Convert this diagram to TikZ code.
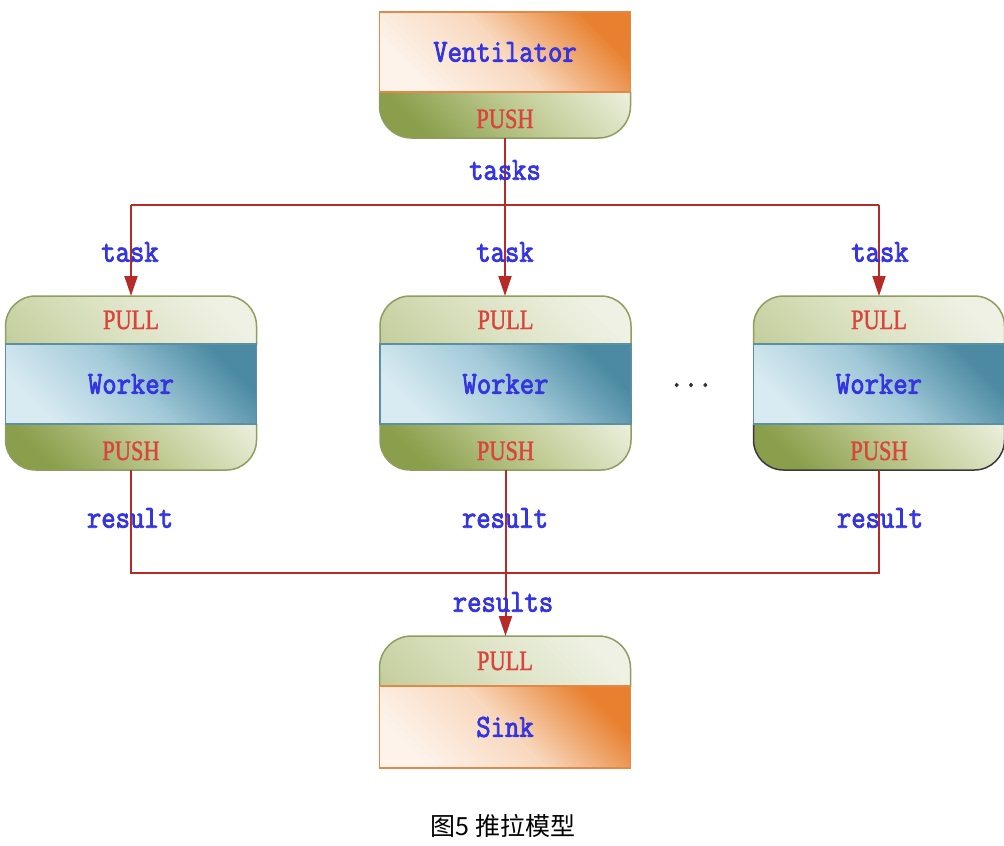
\documentclass[tikz,border=0pt]{standalone}
\usepackage{fontspec}
\usetikzlibrary{arrows.meta,calc}
\newfontfamily\sockfont[FakeStretch=0.8,FakeBold=1.2]{Liberation Serif}
\newfontfamily\cjk{Noto Sans CJK SC}
\newfontfamily\lblfont[FakeStretch=0.87,FakeBold=2.5]{Latin Modern Mono}
\definecolor{orD}{HTML}{E8802F}
\definecolor{orM}{HTML}{F8D8BE}
\definecolor{orL}{HTML}{FDF3EB}
\definecolor{orB}{HTML}{E08A4A}
\definecolor{gpD}{HTML}{8A9E4B}
\definecolor{gpM}{HTML}{BFCB93}
\definecolor{gpL}{HTML}{E9EDD9}
\definecolor{glD}{HTML}{C5CF9E}
\definecolor{glM}{HTML}{DCE2C3}
\definecolor{glL}{HTML}{EEF1E3}
\definecolor{grB}{HTML}{8F9D5E}
\definecolor{blD}{HTML}{4B8AA2}
\definecolor{blM}{HTML}{A3CAD9}
\definecolor{blL}{HTML}{D9EBF2}
\definecolor{blB}{HTML}{5C8FA2}
\definecolor{lnred}{HTML}{B52B27}
\definecolor{lblblue}{HTML}{3535E0}
\definecolor{sockred}{HTML}{D9443B}
\definecolor{dotgray}{HTML}{333333}
\definecolor{darkedge}{HTML}{3A3A3A}
\pgfdeclarelayer{bg}
\pgfsetlayers{bg,main}
\tikzset{
  lbl/.style={font=\lblfont\fontsize{32}{32}\selectfont, text=lblblue, inner sep=0pt},
  sock/.style={font=\sockfont\fontsize{28}{28}\selectfont, text=sockred},
  sect/.style={minimum width=251pt, inner sep=0pt, outer sep=0pt},
  orsh/.style={top color=orD, bottom color=orL, middle color=orM, shading angle=-45},
  pushsh/.style={top color=gpL, bottom color=gpD, middle color=gpM, shading angle=-45},
  pullsh/.style={top color=glL, bottom color=glD, middle color=glM, shading angle=-45},
  bluesh/.style={top color=blD, bottom color=blL, middle color=blM, shading angle=-45},
  conn/.style={draw=lnred, line width=2pt},
  arr/.style={conn, -{Triangle[length=20pt,width=13pt]}},
  bordw/.style={line width=1.5pt},
  captxt/.style={font=\cjk\fontsize{25}{25}\selectfont, text=black},
}
\newcommand\wkr[3]{%
  \node[sect, minimum height=48pt, sock] (#1pull) at (#2,320) {PULL};
  \node[sect, minimum height=80pt, lbl] (#1mid) at (#2,384) {Worker};
  \node[sect, minimum height=46pt, sock, text height=26pt, text depth=0pt] (#1push) at (#2,447) {PUSH};
  \begin{pgfonlayer}{bg}
    \begin{scope}
      \clip ($(#1pull.north west)+(-4,-4)$) rectangle ($(#1pull.south east)+(4,0)$);
      \path[pullsh, draw=grB, bordw, rounded corners=30pt] (#1pull.north west) rectangle ($(#1pull.south east)+(0,40)$);
    \end{scope}
    \begin{scope}
      \clip ($(#1push.north west)+(-4,0)$) rectangle ($(#1push.south east)+(4,4)$);
      \path[pushsh, draw=#3, bordw, rounded corners=30pt] ($(#1push.north west)+(0,-40)$) rectangle (#1push.south east);
    \end{scope}
    \path[bluesh, draw=blB, bordw] (#1mid.north west) rectangle (#1mid.south east);
  \end{pgfonlayer}}
\begin{document}
\begin{tikzpicture}[x=1pt,y=-1pt]
\useasboundingbox (0,0) rectangle (1004,846);
% Ventilator
\node[sect, minimum height=80pt, lbl] (vtop) at (505,52) {Ventilator};
\node[sect, minimum height=46pt, sock, text height=26pt, text depth=0pt] (vpush) at (505,115) {PUSH};
\begin{pgfonlayer}{bg}
  \begin{scope}
    \clip ($(vpush.north west)+(-4,0)$) rectangle ($(vpush.south east)+(4,4)$);
    \path[pushsh, draw=grB, bordw, rounded corners=32pt] ($(vpush.north west)+(0,-40)$) rectangle (vpush.south east);
  \end{scope}
  \path[orsh, draw=orB, bordw] (vtop.north west) rectangle (vtop.south east);
\end{pgfonlayer}
% Workers
\wkr{wa}{131}{grB}
\wkr{wb}{505.5}{grB}
\wkr{wc}{879}{darkedge}
\node[lbl, text=dotgray] (dots) at (691,385) {...};
% Sink
\node[sect, minimum height=50pt, sock] (spull) at (505,661) {PULL};
\node[sect, minimum height=82pt, lbl] (ssink) at (505,727) {Sink};
\begin{pgfonlayer}{bg}
  \begin{scope}
    \clip ($(spull.north west)+(-4,-4)$) rectangle ($(spull.south east)+(4,0)$);
    \path[pullsh, draw=grB, bordw, rounded corners=32pt] (spull.north west) rectangle ($(spull.south east)+(0,40)$);
  \end{scope}
  \path[orsh, draw=orB, bordw] (ssink.north west) rectangle (ssink.south east);
\end{pgfonlayer}
% connectors
\coordinate (busa) at (505,205);
\coordinate (busb) at (505,573);
\draw[conn] (wapull.north |- busa) -- (wcpull.north |- busa);
\draw[arr] (vpush.south) -- (vpush.south |- wbpull.north);
\draw[arr] (wapull.north |- busa) -- (wapull.north);
\draw[arr] (wcpull.north |- busa) -- (wcpull.north);
\draw[conn] (wapush.south) -- (wapush.south |- busb) -- (wcpush.south |- busb) -- (wcpush.south);
\draw[arr] (wbpush.south) -- (wbpush.south |- spull.north);
% labels
\node[lbl] (ltasks) at (505,170) {tasks};
\node[lbl] (ltaska) at (130,252) {task};
\node[lbl] (ltaskb) at (505,252) {task};
\node[lbl] (ltaskc) at (880,252) {task};
\node[lbl] (lresa) at (130,518) {result};
\node[lbl] (lresb) at (505,518) {result};
\node[lbl] (lresc) at (880,518) {result};
\node[lbl] (lress) at (503,602) {results};
\node[captxt] (caption) at (503,826) {图5 推拉模型};
\end{tikzpicture}
\end{document}
